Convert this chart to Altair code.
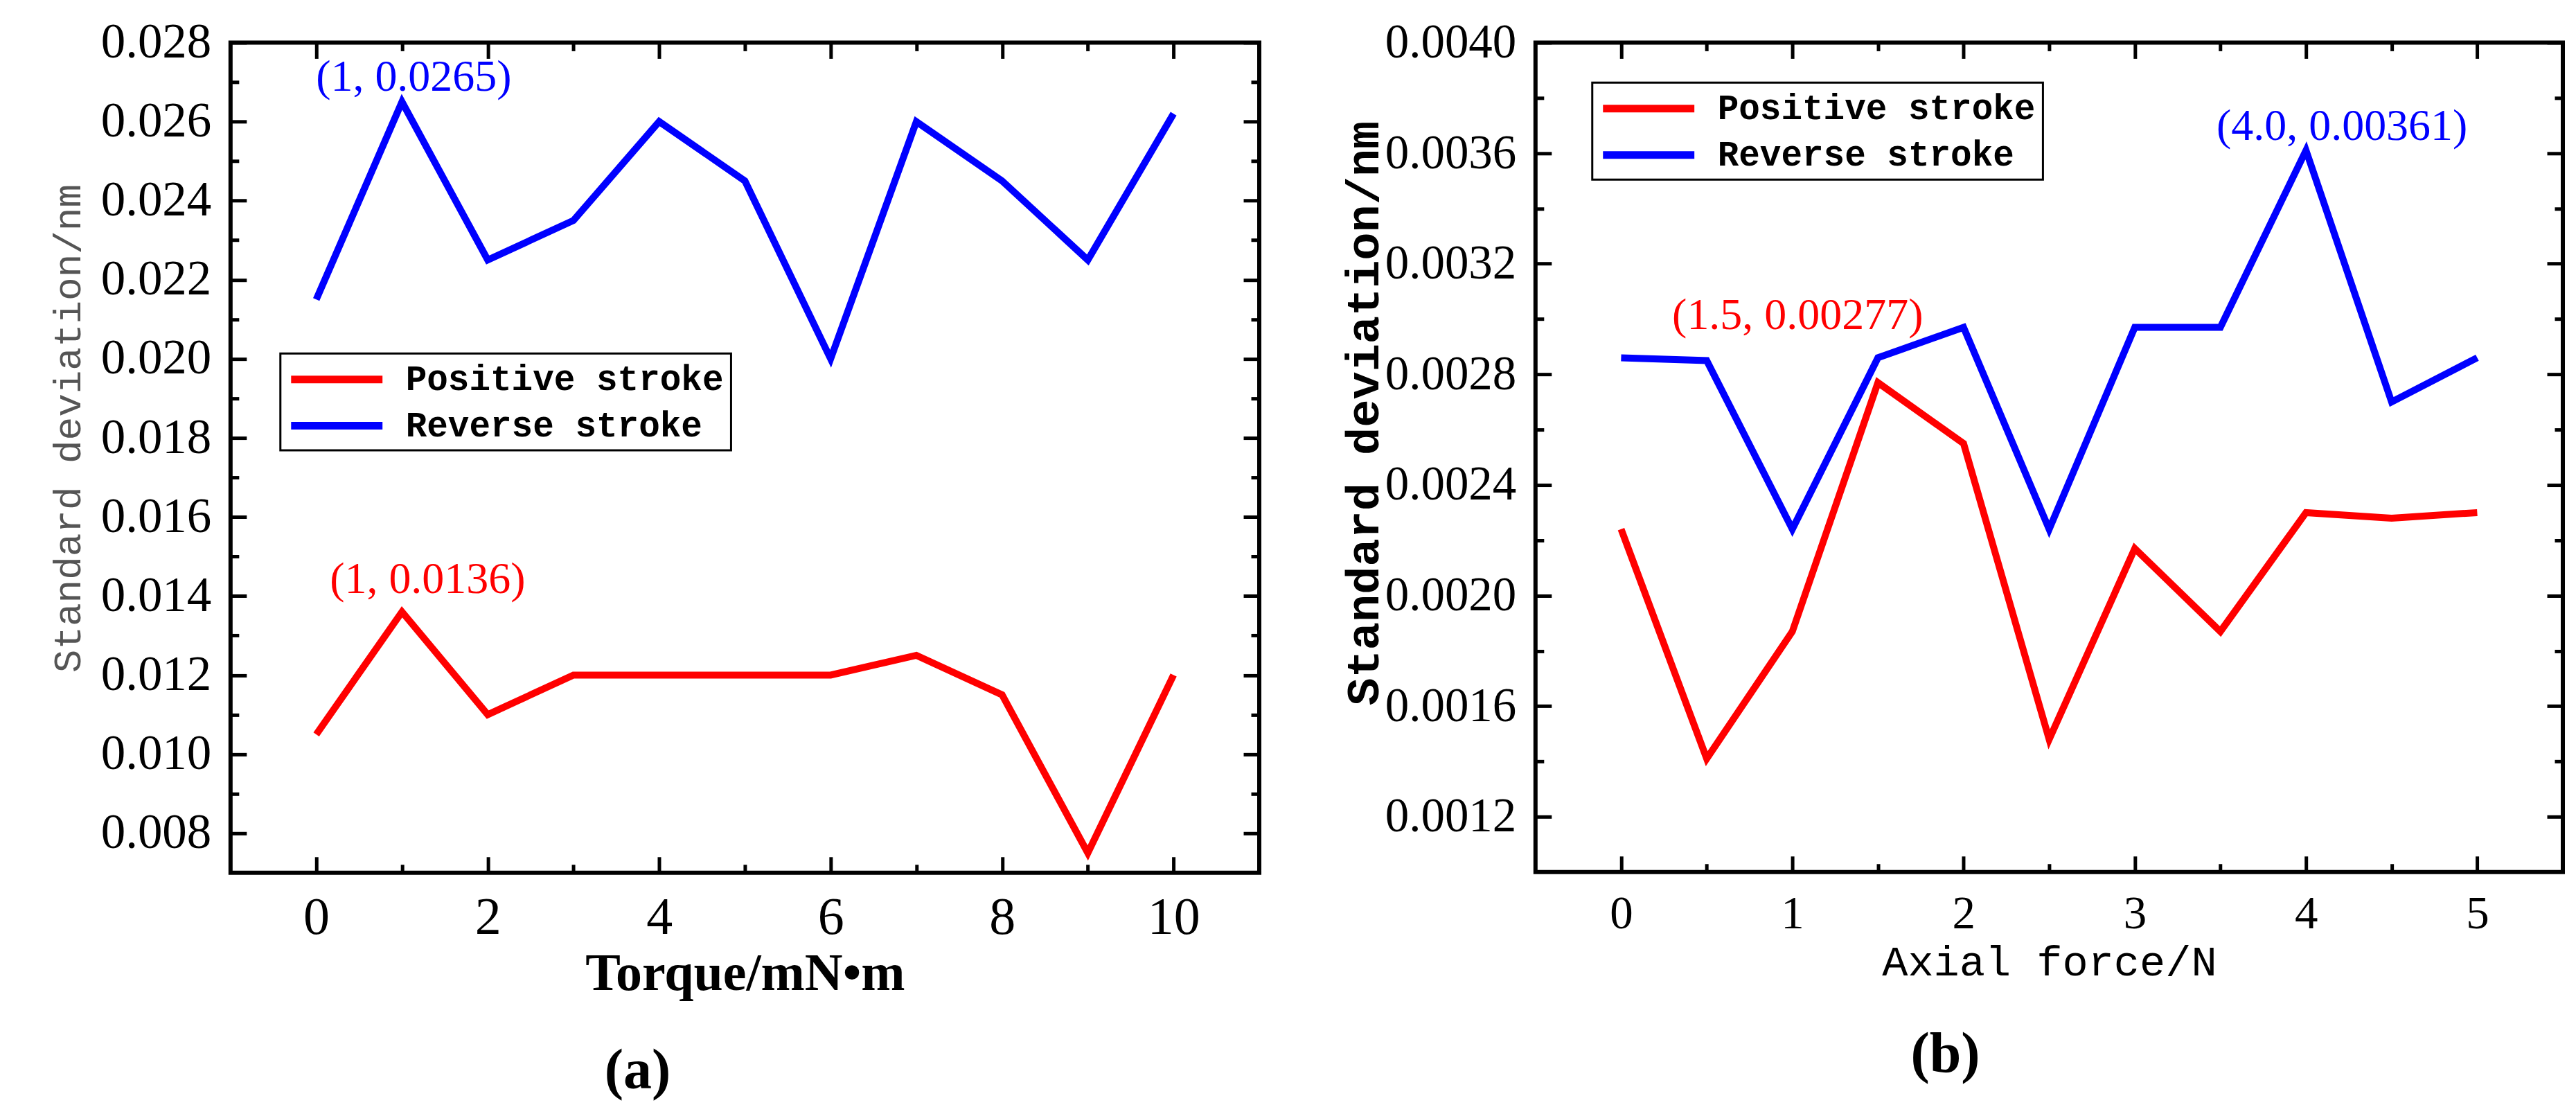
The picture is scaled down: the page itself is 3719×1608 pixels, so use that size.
import altair as alt
import pandas as pd

# ---------------- data ----------------
series = ["Positive stroke", "Reverse stroke"]
series_colors = ["#ff0000", "#0000ff"]

torque = [0, 1, 2, 3, 4, 5, 6, 7, 8, 9, 10]
torque_pos = [0.0105, 0.0136, 0.0110, 0.0120, 0.0120, 0.0120, 0.0120, 0.0125, 0.0115, 0.0075, 0.0120]
torque_rev = [0.0215, 0.0265, 0.0225, 0.0235, 0.0260, 0.0245, 0.0200, 0.0260, 0.0245, 0.0225, 0.0262]

force = [0, 0.5, 1, 1.5, 2, 2.5, 3, 3.5, 4, 4.5, 5]
force_pos = [0.00224, 0.00141, 0.00187, 0.00277, 0.00255, 0.00148, 0.00217, 0.00187, 0.00230, 0.00228, 0.00230]
force_rev = [0.00286, 0.00285, 0.00224, 0.00286, 0.00297, 0.00224, 0.00297, 0.00297, 0.00361, 0.00270, 0.00286]

# tick values
a_x_major = [0, 2, 4, 6, 8, 10]
a_x_minor = [1, 3, 5, 7, 9]
a_y_major = [0.008, 0.010, 0.012, 0.014, 0.016, 0.018, 0.020, 0.022, 0.024, 0.026, 0.028]
a_y_minor = [0.009, 0.011, 0.013, 0.015, 0.017, 0.019, 0.021, 0.023, 0.025, 0.027]
b_x_major = [0, 1, 2, 3, 4, 5]
b_x_minor = [0.5, 1.5, 2.5, 3.5, 4.5]
b_y_major = [0.0012, 0.0016, 0.0020, 0.0024, 0.0028, 0.0032, 0.0036, 0.0040]
b_y_minor = [0.0014, 0.0018, 0.0022, 0.0026, 0.0030, 0.0034, 0.0038]

# annotations: (x, y, text, series index)
a_notes = [(1, 0.0265, "(1, 0.0265)", 1), (1, 0.0136, "(1, 0.0136)", 0)]
b_notes = [(1.5, 0.00277, "(1.5, 0.00277)", 0), (4.0, 0.00361, "(4.0, 0.00361)", 1)]
# per-annotation label offsets (style, pixels)
a_note_offsets = [(17, -3), (37, -14)]
b_note_offsets = [(-116, -64), (52, -2)]

SERIF = "Liberation Serif"
MONO = "Liberation Mono"
# long horizontal legend stroke (custom symbol path, unit space)
LEGEND_STROKE = "M-1,0H5"


def panel(xs, pos, rev, xdom, ydom, xmaj, xmin, ymaj, ymin, xfmt, yfmt,
          xtitle, xtitle_style, ytitle, ytitle_style, xlabel_size, ylabel_size,
          notes, note_offsets, legend_xy, caption, caption_dx, width, height):
    df = pd.DataFrame({
        "x": xs + xs,
        "y": pos + rev,
        "series": [series[0]] * len(xs) + [series[1]] * len(xs),
    })
    xsc = alt.Scale(domain=xdom, nice=False, zero=False)
    ysc = alt.Scale(domain=ydom, nice=False, zero=False)
    base = alt.Chart(df)

    lines = base.mark_line(strokeWidth=10, strokeJoin="miter", strokeCap="butt").encode(
        x=alt.X("x:Q", scale=xsc, axis=None),
        y=alt.Y("y:Q", scale=ysc, axis=None),
        color=alt.Color(
            "series:N",
            scale=alt.Scale(domain=series, range=series_colors),
            legend=alt.Legend(
                title=None, orient="none", legendX=legend_xy[0], legendY=legend_xy[1],
                symbolType=LEGEND_STROKE, symbolSize=1936, symbolStrokeWidth=11,
                labelFont=MONO, labelFontSize=51, labelFontWeight="bold",
                labelColor="black", labelOffset=116, labelLimit=2000,
                strokeColor="black", fillColor="white", padding=10, rowPadding=14,
            ),
        ),
        detail="series:N",
    )

    def axis_carrier(xaxis, yaxis):
        return base.mark_point(opacity=0).encode(
            x=alt.X("x:Q", scale=xsc, axis=xaxis),
            y=alt.Y("y:Q", scale=ysc, axis=yaxis),
        )

    common = dict(domain=False, grid=False, tickColor="black", tickWidth=5)
    x_main = alt.Axis(orient="bottom", values=xmaj, format=xfmt, tickSize=23, offset=-23,
                      labelFont=SERIF, labelFontSize=xlabel_size, labelColor="black",
                      labelPadding=28, labelFlush=False, labelLimit=1000, labelOverlap=False,
                      title=xtitle, titlePadding=6, **xtitle_style, **common)
    y_main = alt.Axis(orient="left", values=ymaj, format=yfmt, tickSize=23, offset=-23,
                      labelFont=SERIF, labelFontSize=ylabel_size, labelColor="black",
                      labelPadding=28, labelFlush=False, labelLimit=1000, labelOverlap=False,
                      title=ytitle, **ytitle_style, **common)
    x_minor = alt.Axis(orient="bottom", values=xmin, tickSize=12, offset=-12, labels=False, title="", **common)
    y_minor = alt.Axis(orient="left", values=ymin, tickSize=12, offset=-12, labels=False, title="", **common)
    x_top = alt.Axis(orient="top", values=xmaj, tickSize=23, offset=-23, labels=False, title="", **common)
    y_right = alt.Axis(orient="right", values=ymaj, tickSize=23, offset=-23, labels=False, title="", **common)
    x_top_minor = alt.Axis(orient="top", values=xmin, tickSize=12, offset=-12, labels=False, title="", **common)
    y_right_minor = alt.Axis(orient="right", values=ymin, tickSize=12, offset=-12, labels=False, title="", **common)

    layers = [
        axis_carrier(x_main, y_main),
        axis_carrier(x_minor, y_minor),
        axis_carrier(x_top, y_right),
        axis_carrier(x_top_minor, y_right_minor),
        lines,
    ]

    for (nx, ny, ntext, si), (ddx, ddy) in zip(notes, note_offsets):
        ndf = pd.DataFrame({"x": [nx], "y": [ny], "label": [ntext]})
        layers.append(
            alt.Chart(ndf).mark_text(
                font=SERIF, fontSize=64, color=series_colors[si],
                align="center", baseline="bottom", dx=ddx, dy=ddy,
            ).encode(
                x=alt.X("x:Q", scale=xsc, axis=None),
                y=alt.Y("y:Q", scale=ysc, axis=None),
                text="label:N",
            )
        )

    return alt.layer(*layers).resolve_axis(x="independent", y="independent").properties(
        width=width, height=height,
        title=alt.TitleParams(
            text=caption, orient="bottom", anchor="middle", frame="group",
            dx=caption_dx, offset=62, font=SERIF, fontSize=82, fontWeight="bold", color="black",
        ),
    )


left = panel(
    torque, torque_pos, torque_rev, [-1, 11], [0.007, 0.028],
    a_x_major, a_x_minor, a_y_major, a_y_minor, "d", ".3f",
    "Torque/mN•m", dict(titleFont=SERIF, titleFontSize=76, titleFontWeight="bold", titleColor="black"),
    "Standard deviation/nm", dict(titleFont=MONO, titleFontSize=56, titleFontWeight="normal",
                                  titleColor="#555555", titlePadding=28, titleY=557),
    76, 71, a_notes, a_note_offsets, (72, 449), "(a)", -155, 1486, 1199,
)

right = panel(
    force, force_pos, force_rev, [-0.5, 5.5], [0.0010, 0.0040],
    b_x_major, b_x_minor, b_y_major, b_y_minor, "d", ".4f",
    "Axial force/N", dict(titleFont=MONO, titleFontSize=62, titleFontWeight="normal", titleColor="black"),
    "Standard deviation/nm", dict(titleFont=MONO, titleFontSize=67, titleFontWeight="bold",
                                  titleColor="black", titlePadding=36, titleY=535),
    67, 69, b_notes, b_note_offsets, (82, 58), "(b)", -150, 1484, 1198,
)

chart = alt.hconcat(left, right, spacing=109).resolve_legend(color="independent").properties(
    padding={"left": 60, "top": 14, "right": 5, "bottom": 5},
    background="white",
).configure_view(stroke="black", strokeWidth=6).configure_legend(strokeWidth=3)

chart.save("out.html", embed_options={"renderer": "svg", "actions": False})
